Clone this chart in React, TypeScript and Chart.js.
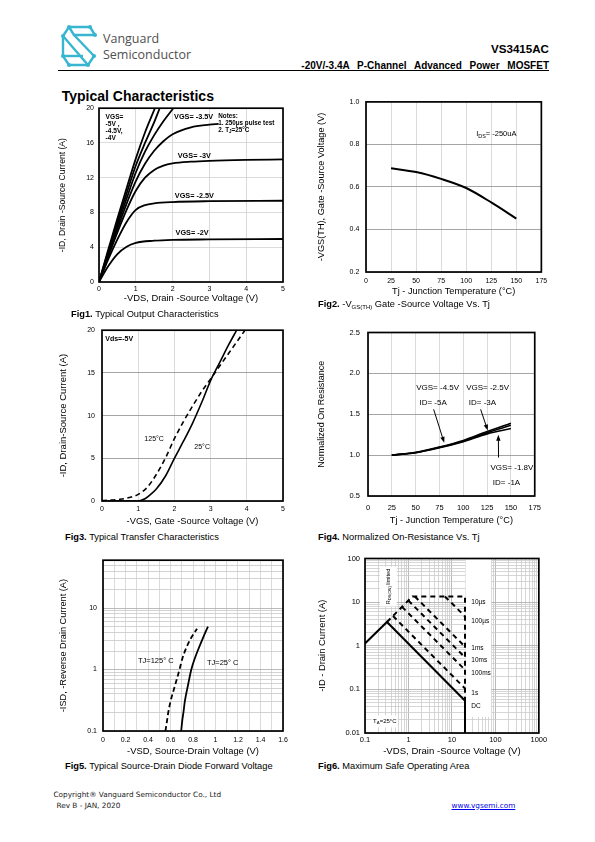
import React, { useEffect, useRef } from "react";
import { Chart, registerables } from "chart.js";

Chart.register(...registerables);

const NARROW = "'Liberation Sans Narrow','Arial Narrow','Liberation Sans',Arial,sans-serif";
const SANS = "'Liberation Sans',Arial,Helvetica,sans-serif";

// ---------------- Fig.1  Typical Output Characteristics ----------------
const fig1XTicks = [0, 1, 2, 3, 4, 5];
const fig1YTicks = [0, 4, 8, 12, 16, 20];
const vdsM5 = [0, 0.25, 0.5, 0.75, 1, 1.25, 1.52];
const idM5 = [0, 3.7, 7.3, 10.8, 14.2, 17.2, 20];
const vdsM45 = [0, 0.25, 0.5, 0.75, 1, 1.25, 1.5, 1.65];
const idM45 = [0, 3.5, 6.9, 10.2, 13.4, 16.0, 18.4, 20];
const vdsM4 = [0, 0.25, 0.5, 0.75, 1, 1.25, 1.5, 1.75, 2.02];
const idM4 = [0, 3.3, 6.5, 9.6, 12.6, 15.0, 16.9, 18.5, 20];
const vdsM35 = [0, 0.25, 0.5, 0.75, 1, 1.25, 1.5, 1.75, 2, 2.5, 3, 3.25];
const idM35 = [0, 3.1, 6.1, 9.0, 11.6, 13.6, 15.1, 16.2, 17.0, 17.8, 18.1, 18.2];
const vdsM3 = [0, 0.25, 0.5, 0.75, 1, 1.25, 1.5, 1.75, 2, 2.5, 3, 4, 5];
const idM3 = [0, 2.9, 5.7, 8.3, 10.5, 12.0, 12.9, 13.4, 13.65, 13.85, 13.95, 14.05, 14.1];
const vdsM25 = [0, 0.25, 0.5, 0.75, 1, 1.25, 1.5, 2, 3, 5];
const idM25 = [0, 2.6, 4.9, 6.9, 8.3, 8.85, 9.05, 9.2, 9.3, 9.35];
const vdsM2 = [0, 0.25, 0.5, 0.75, 1, 1.5, 2, 3, 5];
const idM2 = [0, 1.8, 3.2, 4.05, 4.5, 4.75, 4.85, 4.9, 4.95];

// ---------------- Fig.2  VGS(TH) vs Tj ----------------
const fig2XTicks = [0, 25, 50, 75, 100, 125, 150, 175];
const fig2YTicks = [0.2, 0.4, 0.6, 0.8, 1.0];
const vthTemp = [25, 50, 75, 100, 125, 150];
const vthVolt = [0.688, 0.67, 0.638, 0.595, 0.527, 0.451];

// ---------------- Fig.3  Transfer characteristics ----------------
const fig3XTicks = [0, 1, 2, 3, 4, 5];
const fig3YTicks = [0, 5, 10, 15, 20];
const vgs25 = [0, 1.0, 1.2, 1.35, 1.5, 1.75, 2.0, 2.25, 2.5, 2.75, 3.0, 3.25, 3.5, 3.72];
const id25 = [0, 0, 0.3, 0.8, 1.4, 2.9, 5.0, 7.0, 9.1, 11.5, 14.1, 16.2, 18.3, 20];
const vgs125 = [0, 0.5, 0.75, 1.0, 1.25, 1.5, 1.75, 2.0, 2.25, 2.5, 2.75, 3.0, 3.25, 3.5, 3.75, 3.95];
const id125 = [0.05, 0.2, 0.4, 0.77, 1.6, 3.1, 5.0, 7.3, 9.3, 11.1, 12.8, 14.3, 15.8, 17.3, 18.8, 20];

// ---------------- Fig.4  Normalized RDS(on) vs Tj ----------------
const fig4XTicks = [0, 25, 50, 75, 100, 125, 150, 175];
const fig4YTicks = [0.5, 1.0, 1.5, 2.0, 2.5];
const rdsTemp = [25, 50, 75, 100, 125, 150];
const rdsVgs45 = [1.0, 1.035, 1.1, 1.18, 1.29, 1.39];
const rdsVgs25 = [1.0, 1.03, 1.095, 1.17, 1.275, 1.365];
const rdsVgs18 = [1.0, 1.03, 1.09, 1.165, 1.26, 1.325];

// ---------------- Fig.5  Diode forward voltage ----------------
const fig5XTicks = [0, 0.1, 0.2, 0.3, 0.4, 0.5, 0.6, 0.7, 0.8, 0.9, 1, 1.1, 1.2, 1.3, 1.4, 1.5, 1.6];
const vsd25 = [0.695, 0.705, 0.715, 0.727, 0.755, 0.785, 0.815, 0.85, 0.89, 0.933];
const isd25 = [0.1, 0.15, 0.2, 0.3, 0.55, 1.0, 1.5, 2.2, 3.3, 5.0];
const vsd125 = [0.555, 0.57, 0.58, 0.6, 0.64, 0.68, 0.705, 0.738, 0.78, 0.836];
const isd125 = [0.1, 0.15, 0.2, 0.3, 0.55, 1.0, 1.5, 2.2, 3.2, 4.6];

// ---------------- Fig.6  Safe operating area ----------------
const soaDcV = [0.1, 0.32, 20, 20];
const soaDcI = [1.13, 3.5, 0.055, 0.01];
const soaLimV = [0.32, 1.23, 20, 20];
const soaLimI = [3.5, 13.5, 13.5, 0.055];
const soa100usV = [6.9, 20];
const soa100usI = [13.5, 4.7];
const soa1msV = [1.4, 20];
const soa1msI = [13.5, 0.95];
const soa10msV = [0.99, 20];
const soa10msI = [10.9, 0.54];
const soa100msV = [0.71, 20];
const soa100msI = [7.8, 0.28];
const soa1sV = [0.44, 20];
const soa1sI = [4.8, 0.105];

// ---------------- helpers ----------------
function logTicks(min: number, max: number): number[] {
  const out: number[] = [];
  for (let e = Math.floor(Math.log10(min)); e <= Math.ceil(Math.log10(max)); e++) {
    for (let m = 1; m <= 9; m++) {
      const v = Number((m * Math.pow(10, e)).toPrecision(6));
      if (v >= min * 0.9999 && v <= max * 1.0001) out.push(v);
    }
  }
  return out;
}
const isPow10 = (v: number) => {
  const l = Math.log10(v);
  return Math.abs(l - Math.round(l)) < 1e-6;
};

const xy = (xs: number[], ys: number[]) => xs.map((x, i) => ({ x, y: ys[i] }));

function line(xs: number[], ys: number[], extra: any = {}) {
  return {
    data: xy(xs, ys),
    showLine: true,
    borderColor: "#000",
    backgroundColor: "#000",
    borderWidth: 1.8,
    pointRadius: 0,
    fill: false,
    cubicInterpolationMode: "monotone",
    ...extra,
  };
}

interface Geo {
  l: number; t: number; r: number; b: number;
  yTitleX: number; xTitleY: number; yTitleSize: number; xTitleSize: number;
}
function frameOf(g: Geo) {
  const left = Math.round(g.yTitleX - g.yTitleSize * 0.6);
  const top = g.t - 8;
  const right = g.r + 10;
  const bottom = Math.round(g.xTitleY + g.xTitleSize * 0.6);
  return { left, top, width: right - left, height: bottom - top, yW: g.l - left, xH: bottom - g.b };
}

interface AxisSpec {
  log?: boolean; min: number; max: number; ticks: number[];
  label: (v: number) => string; title: string; titleSize: number;
  tickSize: number; tickPad: number; grid: (v: number) => string;
}
function axis(kind: "x" | "y", size: number, s: AxisSpec) {
  return {
    type: s.log ? "logarithmic" : "linear",
    position: kind === "x" ? "bottom" : "left",
    min: s.min,
    max: s.max,
    afterBuildTicks: (sc: any) => { sc.ticks = s.ticks.map((v) => ({ value: v })); },
    afterFit: (sc: any) => { if (kind === "x") sc.height = size; else sc.width = size; },
    ticks: {
      autoSkip: false, maxRotation: 0, minRotation: 0, padding: s.tickPad, color: "#000",
      font: { family: NARROW, size: s.tickSize, lineHeight: 1.2 },
      callback: (v: any) => s.label(Number(v)),
    },
    grid: { drawTicks: false, lineWidth: 0.8, color: (c: any) => s.grid(c.tick ? c.tick.value : NaN) },
    border: { display: false },
    title: { display: true, text: s.title, color: "#000", padding: 0, font: { family: SANS, size: s.titleSize, lineHeight: 1.2 } },
  };
}

type Seg = { t: string; sub?: boolean };
type Note = { x: number; y: number; text: string | Seg[]; size: number; bold?: boolean; align?: "left" | "center" | "right"; rotate?: boolean };
type Arrow = { x1: number; y1: number; x2: number; y2: number };
type Rect = { x1: number; y1: number; x2: number; y2: number };

function overlay(id: string, notes: Note[], arrows: Arrow[] = [], whites: Rect[] = []) {
  return {
    id,
    beforeDatasetsDraw(chart: any) {
      const { ctx, scales } = chart;
      const x = scales.x, y = scales.y;
      ctx.save();
      ctx.fillStyle = "#fff";
      for (const r of whites) {
        const a = x.getPixelForValue(r.x1), b = x.getPixelForValue(r.x2);
        const c = y.getPixelForValue(r.y1), d = y.getPixelForValue(r.y2);
        ctx.fillRect(Math.min(a, b), Math.min(c, d), Math.abs(b - a), Math.abs(d - c));
      }
      ctx.restore();
    },
    afterDatasetsDraw(chart: any) {
      const { ctx, chartArea: ca, scales } = chart;
      const x = scales.x, y = scales.y;
      ctx.save();
      ctx.strokeStyle = "#000";
      ctx.lineWidth = 1.7;
      ctx.strokeRect(ca.left, ca.top, ca.right - ca.left, ca.bottom - ca.top);
      ctx.fillStyle = "#000";
      ctx.textBaseline = "middle";
      ctx.textAlign = "left";
      for (const n of notes) {
        const segs: Seg[] = typeof n.text === "string" ? [{ t: n.text }] : n.text;
        const f = (s: Seg) => `${n.bold ? "bold " : ""}${s.sub ? n.size * 0.72 : n.size}px ${NARROW}`;
        let total = 0;
        for (const s of segs) { ctx.font = f(s); total += ctx.measureText(s.t).width; }
        ctx.save();
        ctx.translate(x.getPixelForValue(n.x), y.getPixelForValue(n.y));
        if (n.rotate) ctx.rotate(-Math.PI / 2);
        let cx = n.align === "center" ? -total / 2 : n.align === "right" ? -total : 0;
        for (const s of segs) {
          ctx.font = f(s);
          ctx.fillText(s.t, cx, s.sub ? n.size * 0.28 : 0);
          cx += ctx.measureText(s.t).width;
        }
        ctx.restore();
      }
      ctx.lineWidth = 1;
      for (const a of arrows) {
        const x1 = x.getPixelForValue(a.x1), y1 = y.getPixelForValue(a.y1);
        const x2 = x.getPixelForValue(a.x2), y2 = y.getPixelForValue(a.y2);
        const ang = Math.atan2(y2 - y1, x2 - x1);
        ctx.beginPath();
        ctx.moveTo(x1, y1);
        ctx.lineTo(x2 - 4 * Math.cos(ang), y2 - 4 * Math.sin(ang));
        ctx.stroke();
        ctx.beginPath();
        ctx.moveTo(x2, y2);
        ctx.lineTo(x2 - 6 * Math.cos(ang) + 2.2 * Math.sin(ang), y2 - 6 * Math.sin(ang) - 2.2 * Math.cos(ang));
        ctx.lineTo(x2 - 6 * Math.cos(ang) - 2.2 * Math.sin(ang), y2 - 6 * Math.sin(ang) + 2.2 * Math.cos(ang));
        ctx.closePath();
        ctx.fill();
      }
      ctx.restore();
    },
  };
}

function makeConfig(g: Geo, datasets: any[], xs: AxisSpec, ys: AxisSpec, plug: any) {
  const fr = frameOf(g);
  return {
    type: "scatter",
    data: { datasets },
    options: {
      animation: false,
      responsive: false,
      devicePixelRatio: 1,
      events: [],
      layout: { padding: { top: 8, right: 10, left: 0, bottom: 0 } },
      plugins: { legend: { display: false }, tooltip: { enabled: false } },
      scales: { x: axis("x", fr.xH, xs), y: axis("y", fr.yW, ys) },
    },
    plugins: [plug],
  };
}

function ChartBox({ geo, make }: { geo: Geo; make: () => any }) {
  const ref = useRef<HTMLCanvasElement>(null);
  const fr = frameOf(geo);
  useEffect(() => {
    const c = new Chart(ref.current as HTMLCanvasElement, make());
    return () => c.destroy();
  }, []);
  return (
    <canvas
      ref={ref}
      width={fr.width}
      height={fr.height}
      style={{ position: "absolute", left: fr.left, top: fr.top, width: fr.width, height: fr.height }}
    />
  );
}

const LIGHT = "#d2d2d2";
const DARK = "#8e8e8e";
const num1 = (v: number) => v.toFixed(1);
const plain = (v: number) => String(v);

// ---------------- geometry ----------------
const g1: Geo = { l: 99, t: 107, r: 283, b: 282, yTitleX: 62, xTitleY: 298, yTitleSize: 8.6, xTitleSize: 9.4 };
const g2: Geo = { l: 366, t: 99, r: 542, b: 272, yTitleX: 322, xTitleY: 291, yTitleSize: 9.2, xTitleSize: 9.2 };
const g3: Geo = { l: 102, t: 327, r: 283, b: 501, yTitleX: 63.3, xTitleY: 521.7, yTitleSize: 9.5, xTitleSize: 9.3 };
const g4: Geo = { l: 368, t: 328, r: 538, b: 496, yTitleX: 321.7, xTitleY: 520, yTitleSize: 9, xTitleSize: 9.2 };
const g5: Geo = { l: 103, t: 558, r: 283, b: 731, yTitleX: 63.3, xTitleY: 751.7, yTitleSize: 9.2, xTitleSize: 9.4 };
const g6: Geo = { l: 365, t: 557, r: 540, b: 733, yTitleX: 322.7, xTitleY: 751.7, yTitleSize: 9.4, xTitleSize: 9.6 };

const makeFig1 = () =>
  makeConfig(
    g1,
    [
      line(vdsM5, idM5), line(vdsM45, idM45), line(vdsM4, idM4), line(vdsM35, idM35),
      line(vdsM3, idM3), line(vdsM25, idM25), line(vdsM2, idM2),
    ],
    { min: 0, max: 5, ticks: fig1XTicks, label: plain, title: "-VDS, Drain -Source Voltage (V)", titleSize: 9.4, tickSize: 7, tickPad: 3.3, grid: () => LIGHT },
    { min: 0, max: 20, ticks: fig1YTicks, label: plain, title: "-ID, Drain -Source Current (A)", titleSize: 8.6, tickSize: 7, tickPad: 5, grid: () => LIGHT },
    overlay("f1", [
      { x: 0.18, y: 18.97, text: "VGS=", size: 6.6, bold: true },
      { x: 0.18, y: 18.17, text: "-5V ,", size: 6.6, bold: true },
      { x: 0.18, y: 17.4, text: "-4.5V,", size: 6.6, bold: true },
      { x: 0.18, y: 16.6, text: "-4V", size: 6.6, bold: true },
      { x: 2.04, y: 18.94, text: "VGS= -3.5V", size: 7.3, bold: true },
      { x: 3.24, y: 19.05, text: "Notes:", size: 6.3, bold: true },
      { x: 3.24, y: 18.3, text: "1. 250μs pulse test", size: 6.3, bold: true },
      { x: 3.24, y: 17.48, text: [{ t: "2. T" }, { t: "J", sub: true }, { t: "=25°C" }], size: 6.3, bold: true },
      { x: 2.14, y: 14.48, text: "VGS= -3V", size: 7.3, bold: true },
      { x: 2.06, y: 9.9, text: "VGS= -2.5V", size: 7.3, bold: true },
      { x: 2.08, y: 5.6, text: "VGS= -2V", size: 7.3, bold: true },
    ])
  );

const makeFig2 = () =>
  makeConfig(
    g2,
    [line(vthTemp, vthVolt, { borderWidth: 2 })],
    { min: 0, max: 175, ticks: fig2XTicks, label: plain, title: "Tj - Junction Temperature (°C)", titleSize: 9.2, tickSize: 7, tickPad: 4.8, grid: () => LIGHT },
    { min: 0.2, max: 1.0, ticks: fig2YTicks, label: num1, title: "-VGS(TH), Gate -Source Voltage (V)", titleSize: 9.2, tickSize: 7, tickPad: 6.7, grid: () => DARK },
    overlay("f2", [
      { x: 110, y: 0.847, text: [{ t: "I" }, { t: "DS", sub: true }, { t: "= -250uA" }], size: 7.5 },
    ])
  );

const makeFig3 = () =>
  makeConfig(
    g3,
    [
      line(vgs25, id25, { borderWidth: 1.6 }),
      line(vgs125, id125, { borderWidth: 1.6, borderDash: [5, 3.5] }),
    ],
    { min: 0, max: 5, ticks: fig3XTicks, label: plain, title: "-VGS, Gate -Source Voltage (V)", titleSize: 9.3, tickSize: 7, tickPad: 4, grid: () => LIGHT },
    { min: 0, max: 20, ticks: fig3YTicks, label: plain, title: "-ID, Drain-Source Current (A)", titleSize: 9.5, tickSize: 7, tickPad: 7, grid: () => DARK },
    overlay("f3", [
      { x: 0.09, y: 19.0, text: "Vds=-5V", size: 7, bold: true },
      { x: 1.17, y: 7.3, text: "125°C", size: 7 },
      { x: 2.55, y: 6.3, text: "25°C", size: 7 },
    ])
  );

const makeFig4 = () =>
  makeConfig(
    g4,
    [
      line(rdsTemp, rdsVgs45, { borderWidth: 1.6 }),
      line(rdsTemp, rdsVgs25, { borderWidth: 1.6 }),
      line(rdsTemp, rdsVgs18, { borderWidth: 1.6 }),
    ],
    { min: 0, max: 175, ticks: fig4XTicks, label: plain, title: "Tj - Junction Temperature (°C)", titleSize: 9.2, tickSize: 7.5, tickPad: 7, grid: () => LIGHT },
    { min: 0.5, max: 2.5, ticks: fig4YTicks, label: num1, title: "Normalized On Resistance", titleSize: 9, tickSize: 7.5, tickPad: 8, grid: () => DARK },
    overlay(
      "f4",
      [
        { x: 50.6, y: 1.82, text: "VGS= -4.5V", size: 8 },
        { x: 54, y: 1.64, text: "ID= -5A", size: 8 },
        { x: 103, y: 1.82, text: "VGS= -2.5V", size: 8 },
        { x: 105.8, y: 1.64, text: "ID= -3A", size: 8 },
        { x: 128.5, y: 0.85, text: "VGS= -1.8V", size: 8 },
        { x: 131, y: 0.66, text: "ID= -1A", size: 8 },
      ],
      [
        { x1: 68.9, y1: 1.56, x2: 80, y2: 1.15 },
        { x1: 118.2, y1: 1.56, x2: 125.7, y2: 1.3 },
        { x1: 137, y1: 0.97, x2: 136.8, y2: 1.25 },
      ]
    )
  );

const makeFig5 = () =>
  makeConfig(
    g5,
    [
      line(vsd25, isd25, { borderWidth: 1.8 }),
      line(vsd125, isd125, { borderWidth: 1.8, borderDash: [5, 3] }),
    ],
    {
      min: 0, max: 1.6, ticks: fig5XTicks,
      label: (v) => (Math.round(v * 10) % 2 === 0 ? String(v) : ""),
      title: "-VSD, Source-Drain Voltage (V)", titleSize: 9.4, tickSize: 7, tickPad: 4.8, grid: () => LIGHT,
    },
    {
      log: true, min: 0.1, max: 60, ticks: logTicks(0.1, 60),
      label: (v) => (isPow10(v) ? String(v) : ""),
      title: "-ISD, -Reverse Drain Current (A)", titleSize: 9.2, tickSize: 7, tickPad: 6, grid: (v) => (isPow10(v) ? "#a8a8a8" : "#c8c8c8"),
    },
    overlay("f5", [
      { x: 0.311, y: 1.38, text: "TJ=125° C", size: 7.5 },
      { x: 0.924, y: 1.3, text: "TJ=25° C", size: 7.5 },
    ])
  );

const makeFig6 = () =>
  makeConfig(
    g6,
    [
      line(soaDcV, soaDcI, { borderWidth: 2, cubicInterpolationMode: "default", tension: 0 }),
      line(soaLimV, soaLimI, { borderWidth: 2, borderDash: [5, 4], cubicInterpolationMode: "default", tension: 0 }),
      line(soa100usV, soa100usI, { borderWidth: 2, borderDash: [5, 4], cubicInterpolationMode: "default", tension: 0 }),
      line(soa1msV, soa1msI, { borderWidth: 2, borderDash: [5, 4], cubicInterpolationMode: "default", tension: 0 }),
      line(soa10msV, soa10msI, { borderWidth: 2, borderDash: [5, 4], cubicInterpolationMode: "default", tension: 0 }),
      line(soa100msV, soa100msI, { borderWidth: 2, borderDash: [5, 4], cubicInterpolationMode: "default", tension: 0 }),
      line(soa1sV, soa1sI, { borderWidth: 2, borderDash: [5, 4], cubicInterpolationMode: "default", tension: 0 }),
    ],
    {
      log: true, min: 0.1, max: 1000, ticks: logTicks(0.1, 1000),
      label: (v) => (isPow10(v) ? String(v) : ""),
      title: "-VDS, Drain -Source Voltage (V)", titleSize: 9.6, tickSize: 7.5, tickPad: 2.8, grid: (v) => (isPow10(v) ? "#a8a8a8" : "#cccccc"),
    },
    {
      log: true, min: 0.01, max: 100, ticks: logTicks(0.01, 100),
      label: (v) => (isPow10(v) ? String(v) : ""),
      title: "-ID - Drain Current (A)", titleSize: 9.4, tickSize: 7.5, tickPad: 5, grid: (v) => (isPow10(v) ? "#a8a8a8" : "#cccccc"),
    },
    overlay(
      "f6",
      [
        { x: 27.9, y: 10, text: "10µs", size: 6.5 },
        { x: 27.9, y: 3.65, text: "100µs", size: 6.5 },
        { x: 27.9, y: 0.9, text: "1ms", size: 6.5 },
        { x: 27.9, y: 0.47, text: "10ms", size: 6.5 },
        { x: 27.9, y: 0.23, text: "100ms", size: 6.5 },
        { x: 27.9, y: 0.081, text: "1s", size: 6.5 },
        { x: 27.9, y: 0.0406, text: "DC", size: 6.5 },
        { x: 0.286, y: 0.0186, text: [{ t: "T" }, { t: "A", sub: true }, { t: "=25°C" }], size: 6, align: "center" },
        { x: 0.344, y: 22.8, text: [{ t: "R" }, { t: "DS(ON)", sub: true }, { t: " limited" }], size: 5.5, align: "center", rotate: true },
      ],
      [],
      [
        { x1: 20.6, y1: 100, x2: 80, y2: 0.0233 },
        { x1: 0.22, y1: 64.8, x2: 0.538, y2: 7.97 },
        { x1: 0.144, y1: 0.0253, x2: 0.566, y2: 0.0135 },
      ]
    )
  );

// ---------------- text helpers ----------------
function Txt({ x, y, size, children, bold, family, color, right, style }: any) {
  const lh = size * 1.2;
  const pos: any = right !== undefined ? { right } : { left: x };
  return (
    <div
      style={{
        position: "absolute", top: y - lh / 2, ...pos, fontSize: size, lineHeight: `${lh}px`,
        fontWeight: bold ? "bold" : "normal", fontFamily: family || SANS, color: color || "#000",
        whiteSpace: "nowrap", ...style,
      }}
    >
      {children}
    </div>
  );
}

function Caption({ x, y, num, children }: any) {
  return (
    <Txt x={x} y={y} size={9.3}>
      <b>{num}</b> {children}
    </Txt>
  );
}

function Logo() {
  const c = "#38b6d1";
  return (
    <svg width={36} height={44} viewBox="0 0 36 44" style={{ position: "absolute", left: 61, top: 24 }}>
      <g stroke={c} strokeWidth={2.4} fill="none" strokeLinejoin="round">
        <path d="M8 3 H29 L34 11 H13 Z" />
        <path d="M8 3 L2 12 L27 41 L33 32" />
        <path d="M13 11 L34 33" />
        <path d="M2 12 L2 32 L8 41 H27" />
        <path d="M2 32 H22" />
      </g>
      <g fill={c}>
        <circle cx={8} cy={3} r={2} />
        <circle cx={29} cy={3} r={2} />
        <circle cx={34} cy={11} r={2} />
        <circle cx={2} cy={12} r={2} />
        <circle cx={2} cy={32} r={2} />
        <circle cx={8} cy={41} r={2} />
        <circle cx={27} cy={41} r={2} />
        <circle cx={33} cy={32} r={2} />
      </g>
    </svg>
  );
}

export default function App() {
  return (
    <div style={{ position: "absolute", left: 0, top: 0, width: 595, height: 842, background: "#fff", overflow: "hidden", fontFamily: SANS }}>
      <Logo />
      <Txt x={103} y={38.5} size={12.5} family="'Open Sans','Noto Sans',sans-serif" color="#505050">Vanguard</Txt>
      <Txt x={103} y={54.5} size={12.5} family="'Open Sans','Noto Sans',sans-serif" color="#505050">Semiconductor</Txt>
      <Txt right={46} y={49.3} size={11.6} bold>VS3415AC</Txt>
      <Txt right={46} y={65.7} size={10} bold style={{ wordSpacing: 5 }}>-20V/-3.4A P-Channel Advanced Power MOSFET</Txt>
      <div style={{ position: "absolute", left: 58, top: 70, width: 491, height: 1, background: "#000" }} />
      <Txt x={61.7} y={96} size={14} bold>Typical Characteristics</Txt>

      <ChartBox geo={g1} make={makeFig1} />
      <ChartBox geo={g2} make={makeFig2} />
      <ChartBox geo={g3} make={makeFig3} />
      <ChartBox geo={g4} make={makeFig4} />
      <ChartBox geo={g5} make={makeFig5} />
      <ChartBox geo={g6} make={makeFig6} />

      <Caption x={71} y={315} num="Fig1.">Typical Output Characteristics</Caption>
      <Caption x={318} y={305} num="Fig2.">
        -V<span style={{ fontSize: 6, verticalAlign: "-2px" }}>GS(TH)</span> Gate -Source Voltage Vs. Tj
      </Caption>
      <Caption x={65} y={538} num="Fig3.">Typical Transfer Characteristics</Caption>
      <Caption x={318} y={538} num="Fig4.">Normalized On-Resistance Vs. Tj</Caption>
      <Caption x={65} y={767} num="Fig5.">Typical Source-Drain Diode Forward Voltage</Caption>
      <Caption x={318} y={767} num="Fig6.">Maximum Safe Operating Area</Caption>

      <Txt x={53.5} y={795} size={7.3} family="'DejaVu Sans',Verdana,sans-serif" color="#222">Copyright® Vanguard Semiconductor Co., Ltd</Txt>
      <Txt x={56.5} y={806} size={7.3} family="'DejaVu Sans',Verdana,sans-serif" color="#222">Rev B - JAN, 2020</Txt>
      <Txt x={451.5} y={806} size={7.3} family="'DejaVu Sans',Verdana,sans-serif" color="#0000ee" style={{ textDecoration: "underline" }}>www.vgsemi.com</Txt>
    </div>
  );
}
